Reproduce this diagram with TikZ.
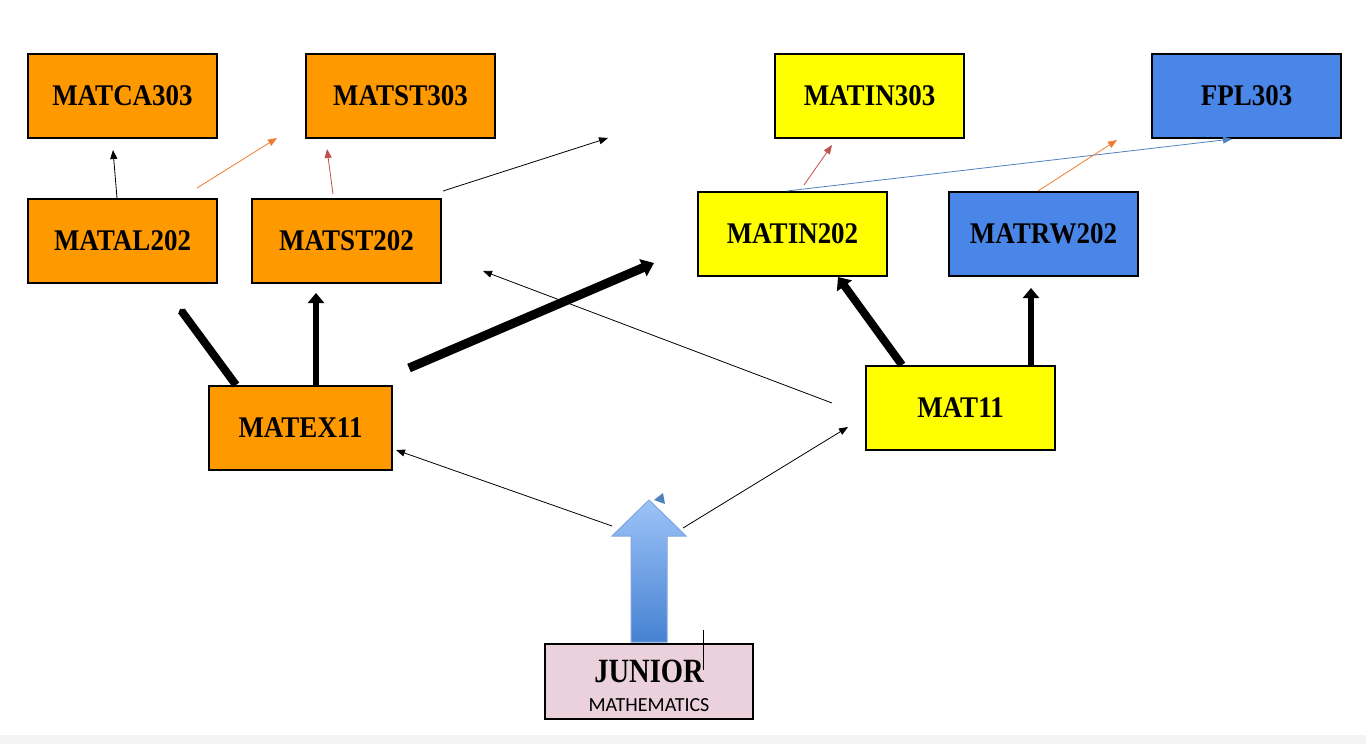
\documentclass[tikz,border=0pt]{standalone}
\usepackage{fontspec}
\newfontfamily\coursefont{Liberation Serif}[FakeStretch=0.9]
\newfontfamily\juniorfont{Liberation Serif}[FakeStretch=0.84]
\newfontfamily\mathsfont{Carlito}
\usetikzlibrary{arrows.meta,calc}
\definecolor{courseorange}{HTML}{FF9900}
\definecolor{courseyellow}{HTML}{FFFF00}
\definecolor{courseblue}{HTML}{4A86E8}
\definecolor{juniorpink}{HTML}{EAD1DC}
\definecolor{linkorange}{HTML}{ED7D31}
\definecolor{linkred}{HTML}{C0504D}
\definecolor{linkblue}{HTML}{4F81BD}
\definecolor{risetop}{HTML}{9DC3F8}
\definecolor{risebottom}{HTML}{4682D2}
\definecolor{riseedge}{HTML}{7FA7DE}
\definecolor{statusgrey}{HTML}{F3F3F3}
\tikzset{course/.style={draw=black, line width=2pt, minimum width=189pt, minimum height=84pt, inner sep=0pt, font=\coursefont\bfseries\fontsize{30}{30}\selectfont}}
\tikzset{thin link/.style={line width=0.8pt, -{Triangle[length=9pt,width=7pt]}}, heavy link/.style={line width=#1, -{Triangle[length=10pt,width=16pt]}}}

\begin{document}
\begin{tikzpicture}[x=1pt,y=-1pt]
   \useasboundingbox (0,0) rectangle (1366,744);
   \fill[statusgrey] (0,735) rectangle (1366,744);
   \begin{scope}
    \node[course, fill=courseorange] (matca303) at ( 122.5, 96) {MATCA303};
    \node[course, fill=courseorange] (matst303) at ( 400.5, 96) {MATST303};
    \node[course, fill=courseyellow] (matin303) at ( 869.5, 96) {MATIN303};
    \node[course, fill=courseblue]   (fpl303)   at (1246.5, 96) {FPL303};
    \node[course, fill=courseorange] (matal202) at ( 122.5,241) {MATAL202};
    \node[course, fill=courseorange] (matst202) at ( 346.5,241) {MATST202};
    \node[course, fill=courseyellow] (matin202) at ( 792.5,234) {MATIN202};
    \node[course, fill=courseblue]   (matrw202) at (1043.5,234) {MATRW202};
    \node[course, fill=courseorange, minimum width=183pt] (matex11) at (300.5,428) {MATEX11};
    \node[course, fill=courseyellow] (mat11)    at ( 960.5,408) {MAT11};
    \node[draw=black, line width=2pt, fill=juniorpink, minimum width=208pt, minimum height=75pt, inner sep=0pt, align=center, font=\mathsfont\fontsize{20}{27}\selectfont] (junior) at (649,681.5) {\raisebox{0pt}[31pt][0pt]{\juniorfont\bfseries\fontsize{34}{27}\selectfont JUNIOR}\\[1.5pt]MATHEMATICS};
   \end{scope}
   \begin{scope}
    \coordinate (ca-tip)   at (113,150);
    \coordinate (al-from)  at (197,188);
    \coordinate (al-tip)   at (277,138);
    \coordinate (st-from)  at (333,194);
    \coordinate (st-tip)   at (327,149);
    \coordinate (st-out)   at (443,191);
    \coordinate (st-end)   at (608,138);
    \coordinate (ex-al)    at (180,309);
    \coordinate (ex-st)    at (316,293);
    \coordinate (ex-from)  at (409,368);
    \coordinate (ex-tip)   at (654,263);
    \coordinate (m-from)   at (832,403);
    \coordinate (m-tip)    at (483,271);
    \coordinate (rw-tip)   at (1031,288);
    \coordinate (in-from)  at (804,185);
    \coordinate (in-tip)   at (832,145);
    \coordinate (rw-end)   at (1117,140);
    \coordinate (jr-left)  at (612,526);
    \coordinate (jr-right) at (683,528);
    \coordinate (jr-tip)   at (848,427);
    \draw[thin link] ($(matal202.north)+(-5.5,0)$) -- (ca-tip);
    \draw[thin link, linkorange] (al-from) -- (al-tip);
    \draw[thin link, linkred] (st-from) -- (st-tip);
    \draw[thin link] (st-out) -- (st-end);
    \draw[line width=8pt, -{Triangle[length=3pt,width=9pt]}] ($(matex11.north)+(-64.5,0)$) -- (ex-al);
    \draw[heavy link=6.5pt] ($(matex11.north)+(15.5,0)$) -- (ex-st);
    \draw[heavy link=9pt, -{Triangle[length=12pt,width=18pt]}] (ex-from) -- (ex-tip);
    \draw[thin link] (m-from) -- (m-tip);
    \draw[heavy link=8pt, -{Triangle[length=11pt,width=18pt]}] ($(mat11.north)+(-58.5,0)$) -- ($(matin202.south)+(45.5,0)$);
    \draw[heavy link=6.5pt] ($(mat11.north)+(70.5,0)$) -- (rw-tip);
    \draw[thin link, linkred] (in-from) -- (in-tip);
    \draw[thin link, linkblue] ($(matin202.north)+(-5.5,0)$) -- ($(fpl303.south)+(-14.5,0)$);
    \draw[thin link, linkorange] ($(matrw202.north)+(-5.5,0)$) -- (rw-end);
    \draw[thin link] (jr-left) -- ($(matex11.east)+(3,22)$);
    \draw[thin link] (jr-right) -- (jr-tip);
   \end{scope}
   \begin{scope}
    \shade[top color=risetop, bottom color=risebottom, draw=riseedge, line width=1pt] (631,642) -- (631,536) -- (612,536) -- (649,500) -- (686,536) -- (667,536) -- (667,642) -- cycle;
    \fill[linkblue] (654,500) -- (663,493) -- (665,504) -- cycle;
    \draw[black, line width=0.8pt] (703,630) -- (703,670);
   \end{scope}
\end{tikzpicture}
\end{document}
